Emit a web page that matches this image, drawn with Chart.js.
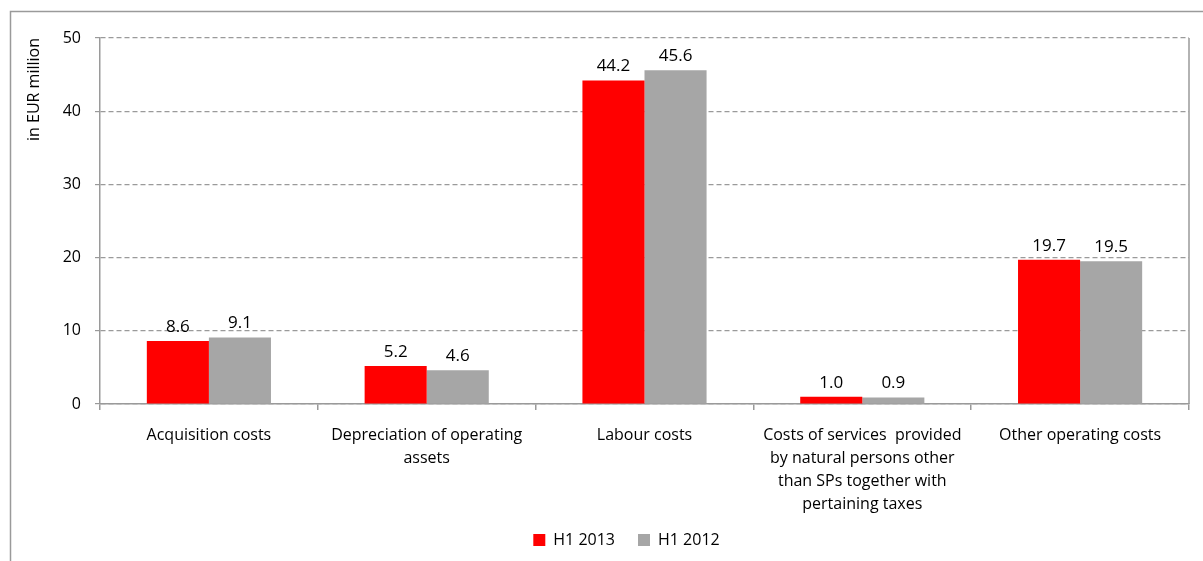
<!DOCTYPE html>
<html>
<head>
<meta charset="utf-8">
<script src="https://cdn.jsdelivr.net/npm/chart.js@4/dist/chart.umd.min.js"></script>
<style>
  html, body { margin: 0; padding: 0; background: #fff; }
  #wrap { width: 1203px; height: 561px; position: relative; }
</style>
</head>
<body>
<div id="wrap"><canvas id="CostChart" width="1203" height="561"></canvas></div>
<script>
const categories = [
  "Acquisition costs",
  ["Depreciation of operating", "assets"],
  "Labour costs",
  ["Costs of services  provided", "by natural persons other", "than SPs together with", "pertaining taxes"],
  "Other operating costs",
]
const h1_2013 = [8.6, 5.2, 44.2, 1.0, 19.7]
const h1_2012 = [9.1, 4.6, 45.6, 0.9, 19.5]
const yTicks = [0, 10, 20, 30, 40, 50]

const FONT = "'Open Sans', sans-serif"
const GRID = "#9a9a9a"

// thin frame around the figure, plus the right edge of the plot
const framePlugin = {
  id: "frame",
  afterLayout(chart) {
    // legend sits a little right of the canvas centre
    const lg = chart.legend
    lg.left += 32
    lg.right += 32
    lg.top -= 8
    lg.bottom -= 8
  },
  beforeDraw(chart) {
    const ctx = chart.ctx
    ctx.save()
    ctx.strokeStyle = GRID
    ctx.lineWidth = 1.5
    ctx.beginPath()
    ctx.moveTo(10.5, 561)
    ctx.lineTo(10.5, 11.5)
    ctx.lineTo(1203, 11.5)
    ctx.stroke()
    ctx.restore()
  },
  afterDraw(chart) {
    const { ctx, chartArea } = chart
    ctx.save()
    ctx.strokeStyle = GRID
    ctx.lineWidth = 1.5
    ctx.beginPath()
    ctx.moveTo(chartArea.right, chartArea.top)
    ctx.lineTo(chartArea.right, chartArea.bottom)
    ctx.stroke()
    ctx.restore()
  },
}

// value labels above each bar
const valueLabels = {
  id: "valueLabels",
  afterDatasetsDraw(chart) {
    const ctx = chart.ctx
    ctx.save()
    ctx.font = "17px " + FONT
    ctx.fillStyle = "#000"
    ctx.textAlign = "center"
    ctx.textBaseline = "alphabetic"
    chart.data.datasets.forEach((ds, i) => {
      chart.getDatasetMeta(i).data.forEach((bar, j) => {
        ctx.fillText(ds.data[j].toFixed(1), bar.x, bar.y - 9)
      })
    })
    ctx.restore()
  },
}

new Chart(document.getElementById("CostChart").getContext("2d"), {
  type: "bar",
  data: {
    labels: categories,
    datasets: [
      {
        label: "H1 2013",
        data: h1_2013,
        backgroundColor: "#ff0000",
        barPercentage: 1,
        categoryPercentage: 0.57,
      },
      {
        label: "H1 2012",
        data: h1_2012,
        backgroundColor: "#a6a6a6",
        barPercentage: 1,
        categoryPercentage: 0.57,
      },
    ],
  },
  options: {
    responsive: false,
    animation: false,
    layout: { padding: { left: 0, right: 14, top: 38, bottom: 0 } },
    plugins: {
      tooltip: { enabled: false },
      legend: {
        position: "bottom",
        maxHeight: 44,
        labels: {
          boxWidth: 12,
          boxHeight: 12,
          padding: 23,
          color: "#000",
          font: { family: FONT, size: 16 },
        },
      },
    },
    scales: {
      x: {
        grid: { drawOnChartArea: false, drawTicks: true, tickLength: 6, color: GRID, lineWidth: 1.5 },
        border: { color: GRID, width: 1.5 },
        ticks: {
          color: "#000",
          padding: 14,
          maxRotation: 0,
          autoSkip: false,
          font: { family: FONT, size: 16, lineHeight: "23px" },
        },
        afterFit(scale) { scale.height = 113 },
      },
      y: {
        min: 0,
        max: 50,
        afterBuildTicks(scale) { scale.ticks = yTicks.map((v) => ({ value: v })) },
        grid: { color: GRID, lineWidth: 1.2, tickLength: 5 },
        border: { color: GRID, width: 1.5, dash: [5, 3] },
        ticks: { color: "#000", padding: 14, font: { family: FONT, size: 16 } },
        title: {
          display: true,
          text: "in EUR million",
          align: "end",
          color: "#000",
          padding: { top: 25, bottom: 0 },
          font: { family: FONT, size: 16 },
        },
        afterFit(scale) { scale.width = 100 },
      },
    },
  },
  plugins: [framePlugin, valueLabels],
})
</script>
</body>
</html>
